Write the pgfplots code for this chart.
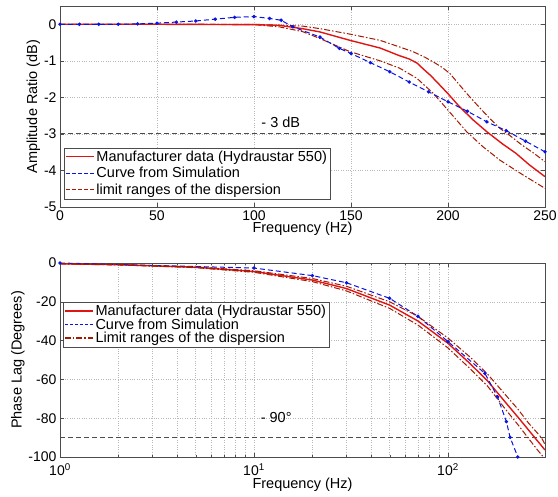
\documentclass[border=0pt]{standalone}
\usepackage{fontspec}
\setmainfont{Liberation Sans}
\usepackage{pgfplots}
\pgfplotsset{compat=1.18}
\definecolor{mred}{RGB}{225,20,20}
\definecolor{mblue}{RGB}{10,20,225}
\definecolor{dred}{RGB}{165,25,0}
\begin{document}
\begin{tikzpicture}[x=1pt,y=1pt]
\useasboundingbox (0,0) rectangle (558,497);
\pgfplotsset{
  every axis/.append style={
    scale only axis,
    width=485pt,
    font=\fontsize{14.5}{16}\selectfont,
    tick label style={font=\fontsize{14}{15}\selectfont},
    /pgf/number format/assume math mode=true,
    axis line style={gray!60!black},
    tick style={gray!60!black},
    tick align=inside,
    major tick length=4pt,
    minor tick length=2pt,
    grid style={gray!55, dotted},
    legend cell align=left,
    legend style={draw=gray!60!black, fill=white, font=\fontsize{14.5}{16}\selectfont,
      inner xsep=1pt, inner ysep=1pt},
  },
  limsty/.style={dred, line width=1pt, dash pattern=on 6pt off 2pt on 1.5pt off 2pt},
}

% amplitude
\begin{axis}[
  at={(60pt,290pt)}, anchor=south west,
  height=201pt,
  xmin=0, xmax=250, ymin=-5, ymax=0.5,
  xtick={0,50,100,150,200,250},
  ytick={0,-1,-2,-3,-4,-5},
  grid=major,
  xlabel={Frequency (Hz)},
  ylabel={Amplitude Ratio (dB)},
  xlabel style={yshift=5pt},
  ylabel style={yshift=-3pt},
  legend style={at={(rel axis cs:0.008,0.04)}, anchor=south west, row sep=0.5pt},
]
\addplot[gray!60!black, line width=0.9pt, dash pattern=on 5pt off 3pt, forget plot] coordinates {(0,-3) (250,-3)};
\addplot[limsty, forget plot] coordinates {(0,0) (50,0) (100,0) (110,-0.02) (125,-0.05) (134,-0.12) (149.5,-0.27) (165,-0.44) (175,-0.62) (182,-0.75) (188,-0.9) (192.4,-1.03) (197,-1.18) (201,-1.35) (205,-1.6) (209.6,-1.89) (214,-2.15) (218.2,-2.39) (222,-2.6) (226.8,-2.85) (232,-3.05) (238,-3.3) (244,-3.52) (250,-3.76)};
\addplot[limsty, forget plot] coordinates {(0,0) (50,0) (100,-0.01) (113,-0.07) (125,-0.2) (134,-0.39) (149.5,-0.75) (165,-1.0) (175,-1.2) (184,-1.48) (192.4,-1.89) (200,-2.35) (209.6,-2.94) (218,-3.35) (226.8,-3.72) (238,-4.1) (250,-4.49)};
\addplot[mred, line width=1.4pt, forget plot] coordinates {(0,0) (50,0) (100,-0.01) (113,-0.03) (125,-0.12) (134,-0.21) (149.5,-0.44) (165,-0.65) (175,-0.86) (180,-0.95) (184,-1.06) (187,-1.21) (191,-1.4) (195,-1.62) (200,-1.9) (206,-2.26) (213,-2.62) (220,-2.94) (228,-3.27) (235,-3.53) (242,-3.85) (250,-4.17)};
\addplot[mblue, line width=1pt, dash pattern=on 5pt off 3pt, mark=*, mark size=1.2pt, mark options={solid}, forget plot] coordinates {(0,0) (10,0) (20,0) (30,0) (40,0.01) (50,0.03) (60,0.06) (70,0.09) (80,0.14) (90,0.19) (100,0.21) (108,0.16) (114,0.11) (120,-0.07) (134,-0.35) (144,-0.66) (150,-0.8) (160,-1.05) (170,-1.3) (180,-1.58) (190,-1.85) (200,-2.12) (210,-2.38) (220,-2.67) (230,-2.91) (240,-3.2) (250,-3.49)};
\addlegendimage{legend image code/.code={\draw[draw=mred, line width=1.4pt] (0pt,0pt) -- (28pt,0pt);}}
\addlegendentry{Manufacturer data (Hydraustar 550)}
\addlegendimage{legend image code/.code={\draw[draw=mblue, line width=1.1pt, dash pattern=on 4pt off 2pt] (0pt,0pt) -- (28pt,0pt);}}
\addlegendentry{Curve from Simulation}
\addlegendimage{legend image code/.code={\draw[draw=dred, line width=1.1pt, dash pattern=on 4pt off 2pt] (0pt,0pt) -- (28pt,0pt);}}
\addlegendentry{limit ranges of the dispersion}
\node[anchor=west, font=\fontsize{14.5}{16}\selectfont] at (axis cs:102,-2.68) {- 3 dB};
\end{axis}

% phase
\begin{axis}[
  at={(60pt,40pt)}, anchor=south west,
  height=194pt,
  xmode=log,
  xmin=1, xmax=316.23, ymin=-100, ymax=0,
  xtick={1,10,100},
  xticklabels={10\textsuperscript{0},10\textsuperscript{1},10\textsuperscript{2}},
  xticklabel style={yshift=-3pt},
  ytick={0,-20,-40,-60,-80,-100},
  grid=both,
  minor grid style={gray!55, dotted},
  xlabel={Frequency (Hz)},
  ylabel={Phase Lag (Degrees)},
  xlabel style={yshift=5pt},
  ylabel style={yshift=-3pt},
  legend style={at={(rel axis cs:0.006,0.80)}, anchor=north west, row sep=-2.5pt},
]
\addplot[gray!60!black, line width=0.9pt, dash pattern=on 5pt off 3pt, forget plot] coordinates {(1,-90) (316.23,-90)};
\addplot[mred, line width=1.4pt, forget plot] coordinates {(1,-0.4) (2,-0.9) (5,-2.2) (10,-4.4) (20,-8.8) (30,-13.2) (50,-21.7) (70,-29.9) (100,-41.4) (130,-51.9) (160,-60.8) (200,-72.4) (230,-79.6) (250,-84) (280,-90) (316.23,-96.4)};
\addplot[mblue, line width=1pt, dash pattern=on 5pt off 3pt, mark=*, mark size=1.2pt, mark options={solid}, forget plot] coordinates {(1,0) (10,-2.6) (20,-6.5) (30,-10.2) (50,-18.2) (70,-27.5) (100,-40.5) (155,-56.9) (180,-69) (200,-81.8) (209,-89.9) (229,-100)};
\addplot[limsty, forget plot] coordinates {(1,-0.35) (2,-0.8) (5,-2) (10,-4) (20,-8) (30,-12) (50,-20) (70,-27.5) (100,-38.7) (130,-48.5) (160,-57.3) (200,-68.5) (230,-75.5) (260,-82.5) (303,-90) (316.23,-93.5)};
\addplot[limsty, forget plot] coordinates {(1,-0.45) (2,-1) (5,-2.4) (10,-4.8) (20,-9.6) (30,-14.4) (50,-23.4) (70,-32) (100,-43.8) (130,-54.5) (160,-63.5) (200,-76) (230,-83.5) (258,-90) (290,-96.5) (316.23,-101)};
\addlegendimage{legend image code/.code={\draw[draw=mred, line width=1.4pt] (0pt,0pt) -- (28pt,0pt);}}
\addlegendentry{Manufacturer data (Hydraustar 550)}
\addlegendimage{legend image code/.code={\draw[draw=mblue, line width=1.1pt, dash pattern=on 3pt off 2pt] (0pt,0pt) -- (28pt,0pt);}}
\addlegendentry{Curve from Simulation}
\addlegendimage{legend image code/.code={\draw[draw=dred, line width=1.1pt, dash pattern=on 6pt off 2pt on 1.5pt off 2pt] (0pt,0pt) -- (28pt,0pt);}}
\addlegendentry{Limit ranges of the dispersion}
\node[anchor=west, font=\fontsize{14.5}{16}\selectfont] at (axis cs:10.4,-79.5) {- 90°};
\end{axis}
\end{tikzpicture}
\end{document}
